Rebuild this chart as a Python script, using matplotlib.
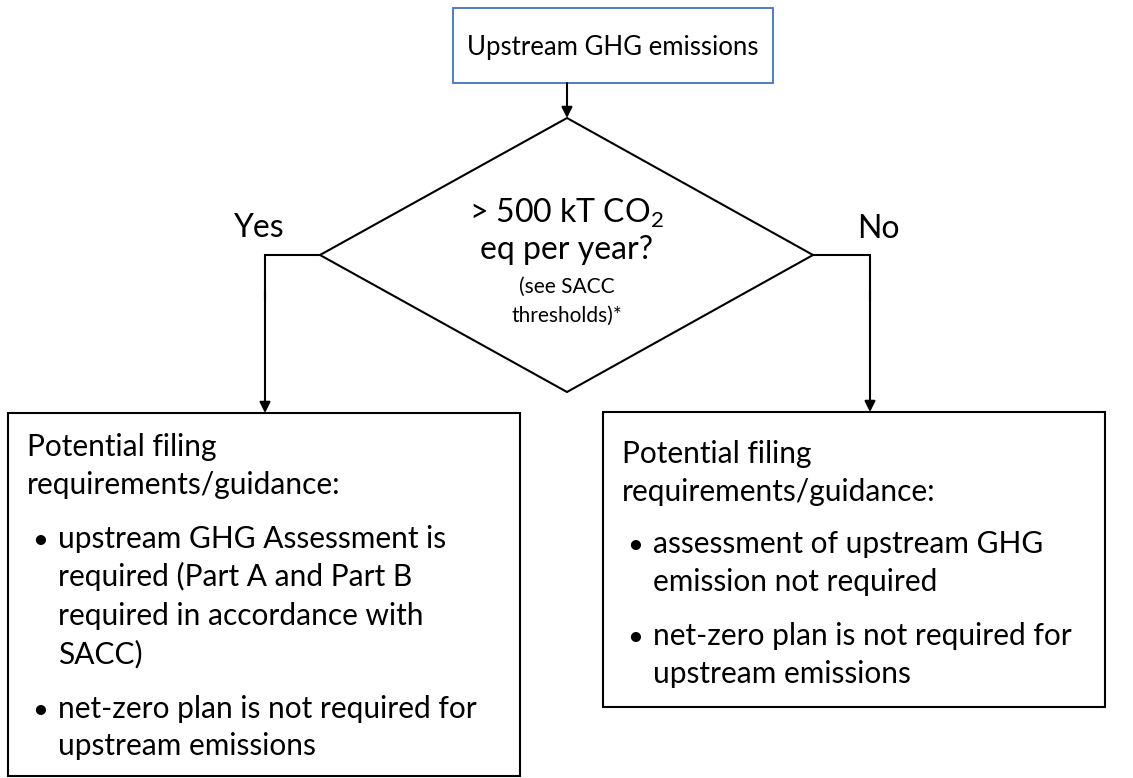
import matplotlib
matplotlib.use("Agg")
import matplotlib.pyplot as plt
from matplotlib.patches import Rectangle, Polygon

plt.rcParams['font.family'] = ['Lato', 'DejaVu Sans']
plt.rcParams['mathtext.fontset'] = 'custom'
plt.rcParams['mathtext.rm'] = 'Lato'

# ---- content ----
top_label = "Upstream GHG emissions"
decision_lines = [r"> 500 kT CO$\mathregular{_2}$", "eq per year?"]
decision_note = ["(see SACC", "thresholds)*"]
yes_label = "Yes"
no_label = "No"
box_heading = ["Potential filing", "requirements/guidance:"]
yes_bullets = [
    ["upstream GHG Assessment is", "required (Part A and Part B",
     "required in accordance with", "SACC)"],
    ["net-zero plan is not required for", "upstream emissions"],
]
no_bullets = [
    ["assessment of upstream GHG", "emission not required"],
    ["net-zero plan is not required for", "upstream emissions"],
]

W, H = 1133, 778
fig = plt.figure(figsize=(W / 100, H / 100), dpi=100)
ax = fig.add_axes([0, 0, 1, 1])
ax.set_xlim(0, W)
ax.set_ylim(H, 0)
ax.axis("off")

lw = 1.5
fs_top = 18.5
fs_box = 21.5
fs_dec = 23
fs_small = 15

# top box
ax.add_patch(Rectangle((453, 8), 320, 75, fill=False, edgecolor="#4472C4", lw=1.3))
ax.text(613, 55, top_label, ha="center", va="baseline", fontsize=fs_top)

arrow = dict(arrowstyle="-|>", color="black", lw=lw, mutation_scale=16,
             shrinkA=0, shrinkB=0)
ax.annotate("", xy=(567, 118), xytext=(567, 83), arrowprops=arrow)

# diamond
ax.add_patch(Polygon([(567, 118), (813, 255), (567, 392), (320, 255)],
                     closed=True, fill=False, edgecolor="black", lw=lw))
ax.text(567, 223, decision_lines[0], ha="center", va="baseline", fontsize=fs_dec)
ax.text(567, 259, decision_lines[1], ha="center", va="baseline", fontsize=fs_dec)
ax.text(567, 293, decision_note[0], ha="center", va="baseline", fontsize=fs_small)
ax.text(567, 322, decision_note[1], ha="center", va="baseline", fontsize=fs_small)

# yes branch
ax.plot([320, 265, 265], [255, 255, 300], color="black", lw=lw,
        solid_joinstyle="miter")
ax.annotate("", xy=(265, 413), xytext=(265, 290), arrowprops=arrow)
ax.text(258, 237, yes_label, ha="center", va="baseline", fontsize=fs_dec)

# no branch
ax.plot([813, 870, 870], [255, 255, 300], color="black", lw=lw,
        solid_joinstyle="miter")
ax.annotate("", xy=(870, 412), xytext=(870, 290), arrowprops=arrow)
ax.text(878, 238, no_label, ha="center", va="baseline", fontsize=fs_dec)


def draw_box(x0, y0, x1, y1, head_x, bullet_x, text_x, baselines, bullets):
    ax.add_patch(Rectangle((x0, y0), x1 - x0, y1 - y0, fill=False,
                           edgecolor="black", lw=lw))
    k = 0
    for t in box_heading:
        ax.text(head_x, baselines[k], t, ha="left", va="baseline", fontsize=fs_box)
        k += 1
    for group in bullets:
        ax.text(bullet_x, baselines[k], "•", ha="left", va="baseline",
                fontsize=fs_box - 2)
        for t in group:
            ax.text(text_x, baselines[k], t, ha="left", va="baseline", fontsize=fs_box)
            k += 1


draw_box(8, 413, 520, 776, 27, 32, 58,
         [456, 494, 548, 586, 625, 663, 718, 755], yes_bullets)
draw_box(603, 412, 1105, 707, 622, 627, 653,
         [463, 501, 553, 591, 645, 683], no_bullets)

fig.savefig("out.png", dpi=100)
